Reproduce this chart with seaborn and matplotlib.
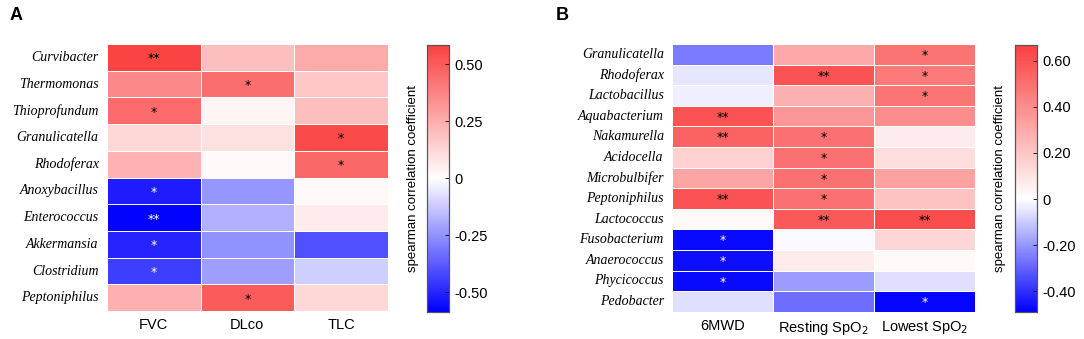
import numpy as np
import pandas as pd
import seaborn as sns
import matplotlib
matplotlib.use('Agg')
import matplotlib.pyplot as plt
from matplotlib.colors import LinearSegmentedColormap

# panel A data
genera_a = ['Curvibacter', 'Thermomonas', 'Thioprofundum', 'Granulicatella', 'Rhodoferax',
            'Anoxybacillus', 'Enterococcus', 'Akkermansia', 'Clostridium', 'Peptoniphilus']
params_a = ['FVC', 'DLco', 'TLC']
fvc = [0.57, 0.36, 0.45, 0.12, 0.23, -0.52, -0.58, -0.50, -0.44, 0.24]
dlco = [0.20, 0.44, 0.03, 0.09, 0.02, -0.24, -0.18, -0.25, -0.22, 0.50]
tlc = [0.26, 0.17, 0.20, 0.55, 0.46, 0.02, 0.06, -0.40, -0.11, 0.12]
stars_a = [['**', '', ''], ['', '*', ''], ['*', '', ''], ['', '', '*'], ['', '', '*'],
           ['*', '', ''], ['**', '', ''], ['*', '', ''], ['*', '', ''], ['', '*', '']]

# panel B data
genera_b = ['Granulicatella', 'Rhodoferax', 'Lactobacillus', 'Aquabacterium', 'Nakamurella',
            'Acidocella', 'Microbulbifer', 'Peptoniphilus', 'Lactococcus', 'Fusobacterium',
            'Anaerococcus', 'Phycicoccus', 'Pedobacter']
params_b = ['6MWD', r'Resting SpO$_2$', r'Lowest SpO$_2$']
mwd = [-0.25, -0.05, -0.03, 0.60, 0.55, 0.16, 0.32, 0.60, 0.02, -0.47, -0.46, -0.47, -0.06]
resting = [0.30, 0.60, 0.28, 0.37, 0.50, 0.50, 0.50, 0.50, 0.58, -0.01, 0.07, -0.19, -0.28]
lowest = [0.49, 0.47, 0.48, 0.40, 0.07, 0.12, 0.33, 0.21, 0.62, 0.14, 0.02, -0.06, -0.48]
stars_b = [['', '', '*'], ['', '**', '*'], ['', '', '*'], ['**', '', ''], ['**', '*', ''],
           ['', '*', ''], ['', '*', ''], ['**', '*', ''], ['', '**', '**'], ['*', '', ''],
           ['*', '', ''], ['*', '', ''], ['', '', '*']]

df_a = pd.DataFrame({'FVC': fvc, 'DLco': dlco, 'TLC': tlc}, index=genera_a)
df_b = pd.DataFrame(np.array([mwd, resting, lowest]).T, index=genera_b, columns=params_b)

red = '#FA4040'
fig = plt.figure(figsize=(10.84, 3.39), dpi=100)


def panel(df, stars, vmin, vmax, ax_rect, cax_rect, ticks, ticklabels):
    mid = -vmin / (vmax - vmin)
    cmap = LinearSegmentedColormap.from_list('bwr_', [(0, '#0000FF'), (mid, 'white'), (1, red)])
    ax = fig.add_axes(ax_rect)
    cax = fig.add_axes(cax_rect)
    sns.heatmap(df, ax=ax, cbar_ax=cax, cmap=cmap, vmin=vmin, vmax=vmax,
                linewidths=0.4, linecolor='white')
    for i, row in enumerate(stars):
        for j, s in enumerate(row):
            if s:
                col = 'white' if df.iloc[i, j] < 0 else 'black'
                ax.text(j + 0.5, i + 0.55, s, ha='center', va='center', fontsize=9, color=col)
    ax.tick_params(length=0)
    ax.set_yticklabels(df.index, rotation=0, fontstyle='italic', family='Liberation Serif', fontsize=10)
    ax.set_xticklabels(df.columns, rotation=0, family='Liberation Sans', fontsize=10.5)
    ax.tick_params(axis='x', pad=5)
    ax.tick_params(axis='y', pad=6)
    ax.set_xlabel('')
    ax.set_ylabel('')
    cax.set_yticks(ticks)
    cax.set_yticklabels(ticklabels, family='Liberation Sans', fontsize=10.5)
    cax.tick_params(length=3, width=0.6, direction='in', pad=4)
    for sp in cax.spines.values():
        sp.set_visible(True)
        sp.set_linewidth(0.8)
        sp.set_color('#555555')
    cax.yaxis.set_label_position('left')
    cax.set_ylabel('spearman correlation coefficient', family='Liberation Sans', fontsize=9.5, labelpad=6)
    return ax


panel(df_a, stars_a, -0.585, 0.585, [0.0987, 0.082, 0.259, 0.788], [0.394, 0.080, 0.0203, 0.788],
      [-0.5, -0.25, 0, 0.25, 0.5], ['-0.50', '-0.25', '0', '0.25', '0.50'])
panel(df_b, stars_b, -0.49, 0.67, [0.620, 0.080, 0.2795, 0.790], [0.936, 0.080, 0.0203, 0.788],
      [-0.4, -0.2, 0, 0.2, 0.4, 0.6], ['-0.40', '-0.20', '0', '0.20', '0.40', '0.60'])

fig.text(0.009, 0.955, 'A', fontsize=13, fontweight='bold', family='Liberation Sans', va='center')
fig.text(0.513, 0.955, 'B', fontsize=13, fontweight='bold', family='Liberation Sans', va='center')

fig.savefig('out.png', dpi=100)
